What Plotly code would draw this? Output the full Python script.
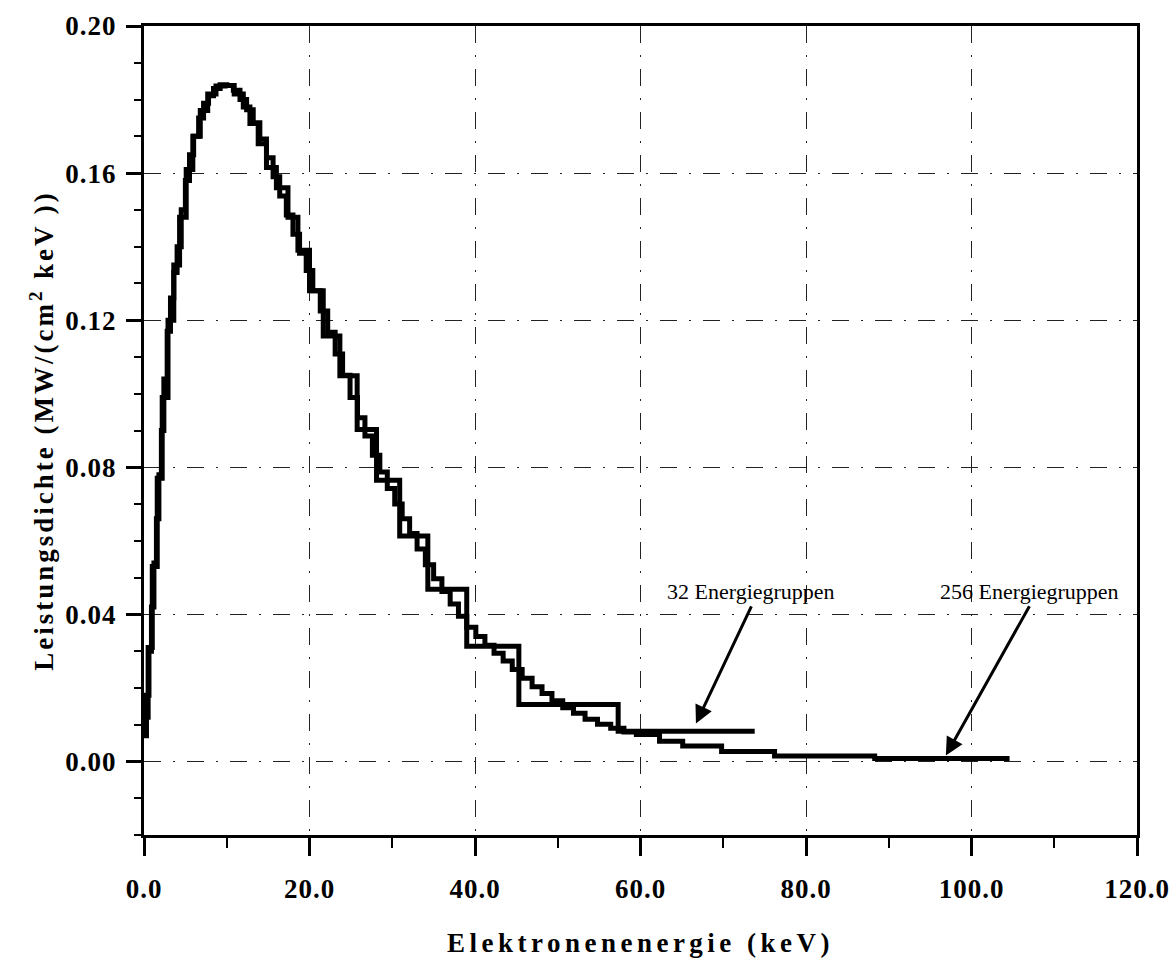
import plotly.graph_objects as go

# Group boundaries (keV) and group-averaged power density (MW/(cm^2 keV))
edges_256 = [0.0, 0.3, 0.6, 0.9, 1.2, 1.5, 1.8, 2.1, 2.4, 2.8, 3.2, 3.6, 4.0,
             4.5, 5.0, 5.5, 6.0, 6.6, 7.2, 7.8, 8.4, 9.2, 10.0, 10.8, 11.6,
             12.4, 13.2, 14.0, 14.8, 15.6, 16.4, 17.2, 18.0, 18.8, 19.6, 20.4,
             21.3, 22.2, 23.1, 24.0, 24.9, 25.8, 26.7, 27.6, 28.5, 29.4, 30.3,
             31.2, 32.1, 33.0, 34.0, 35.0, 36.0, 37.0, 38.0, 39.0, 40.1, 41.2,
             42.3, 43.4, 44.5, 45.7, 46.9, 48.1, 49.3, 50.6, 51.9, 53.3, 54.8,
             56.4, 58.0, 59.5, 62.3, 65.1, 69.8, 76.2, 88.3, 104.6]
dens_256 = [0.007, 0.018, 0.030, 0.042, 0.054, 0.066, 0.078, 0.090, 0.104,
            0.117, 0.126, 0.133, 0.140, 0.150, 0.158, 0.165, 0.170, 0.175,
            0.179, 0.181, 0.183, 0.184, 0.1838, 0.1825, 0.180, 0.1772, 0.1737,
            0.1693, 0.1642, 0.159, 0.1538, 0.1486, 0.1434, 0.1382, 0.1335,
            0.128, 0.1225, 0.1167, 0.1108, 0.105, 0.099, 0.0935, 0.0885,
            0.0833, 0.0787, 0.0742, 0.070, 0.066, 0.062, 0.0578, 0.0535,
            0.0497, 0.0462, 0.0428, 0.0395, 0.0365, 0.034, 0.0316, 0.0294,
            0.0273, 0.025, 0.0226, 0.0203, 0.0185, 0.0165, 0.0146, 0.0131,
            0.0115, 0.0101, 0.009, 0.008, 0.0073, 0.0055, 0.0042, 0.0027,
            0.0015, 0.0008]

edges_32 = [0.0, 0.5, 1.0, 1.6, 2.2, 2.9, 3.6, 4.3, 5.1, 5.9, 6.8, 7.7, 8.7,
            9.8, 10.9, 12.0, 12.8, 13.8, 14.8, 16.0, 17.4, 18.6, 20.0, 21.66,
            23.67, 25.76, 28.1, 30.9, 34.3, 39.0, 45.3, 57.3, 73.8]
dens_32 = [0.012, 0.031, 0.053, 0.077, 0.099, 0.120, 0.135, 0.148, 0.161,
           0.170, 0.177, 0.1815, 0.1837, 0.1838, 0.1815, 0.178, 0.1735, 0.168,
           0.1615, 0.156, 0.148, 0.139, 0.128, 0.1157, 0.1049, 0.0903, 0.0765,
           0.0613, 0.0468, 0.0313, 0.0155, 0.0082]

x_range = [0.0, 120.0]
y_range = [-0.02, 0.20]

# Callouts: (text, label/arrow-tail x, tail y, arrow tip x, tip y)
callouts = [
    ("32 Energiegruppen", 73.4, 0.0422, 66.7, 0.0103),
    ("256 Energiegruppen", 107.0, 0.0422, 96.9, 0.0016),
]

FONT = "Liberation Serif"
grid_dash = "17px,12px,2px,12px"

fig = go.Figure()
for edges, dens, name in [(edges_256, dens_256, "256 Energiegruppen"),
                          (edges_32, dens_32, "32 Energiegruppen")]:
    fig.add_trace(go.Scatter(
        x=edges, y=dens + dens[-1:], mode="lines", name=name,
        line=dict(shape="hv", color="black", width=5),
    ))

axis_common = dict(
    showline=True, linewidth=3, linecolor="black", mirror=True,
    ticks="outside", tickwidth=2.5, tickcolor="black",
    showgrid=True, gridcolor="#222", gridwidth=1.2, griddash=grid_dash,
    zeroline=False,
    tickfont=dict(family=FONT, size=27, color="black", weight="bold"),
)
title_font = dict(family=FONT, size=27, color="black", weight="bold")

fig.update_xaxes(range=x_range, tick0=0, dtick=20, tickformat=".1f",
                 ticklen=18, ticklabelstandoff=10,
                 title=dict(text="Elektronenenergie (keV)", font=title_font,
                            standoff=30),
                 minor=dict(dtick=10, tick0=0, ticks="outside", ticklen=10,
                            tickwidth=2, tickcolor="black", showgrid=False),
                 **axis_common)
fig.update_yaxes(range=y_range, tick0=0, dtick=0.04, tickformat=".2f",
                 ticklen=15, ticklabelstandoff=4,
                 title=dict(text="Leistungsdichte (MW/(cm<sup>2</sup> keV ))",
                            font=title_font, standoff=8),
                 minor=dict(dtick=0.01, tick0=0, ticks="outside", ticklen=7,
                            tickwidth=1.5, tickcolor="black", showgrid=False),
                 **axis_common)

annotations = []
for text, tx, ty, hx, hy in callouts:
    # label sits on the arrow tail; the arrow leaves from the bottom of the label
    annotations.append(dict(x=hx, y=hy, xref="x", yref="y", ax=tx, ay=ty,
                            axref="x", ayref="y", text=text,
                            xanchor="center", yanchor="bottom",
                            font=dict(family=FONT, size=22, color="black",
                                      weight="normal"),
                            showarrow=True, arrowhead=2, arrowsize=1.2,
                            arrowwidth=3, arrowcolor="black",
                            standoff=0, startstandoff=0))

fig.update_layout(
    width=1174, height=960,
    margin=dict(l=144, r=37, t=26, b=125, autoexpand=False),
    plot_bgcolor="white", paper_bgcolor="white",
    showlegend=False,
    font=dict(family=FONT, size=22, color="black"),
    annotations=annotations,
)

# Wide letter spacing on the axis titles and tick labels
spacing_js = """
var gd = document.getElementById('{plot_id}');
gd.querySelectorAll('text').forEach(function(t) {
  var s = t.textContent;
  if (s.indexOf('Elektronen') === 0) { t.style.letterSpacing = '4.5px'; }
  else if (s.indexOf('Leistungs') === 0) { t.style.letterSpacing = '3px'; }
});
gd.querySelectorAll('.xtick text, .ytick text').forEach(function(t) {
  t.style.letterSpacing = '1px';
});
"""

fig.write_html("out.html", post_script=spacing_js)
